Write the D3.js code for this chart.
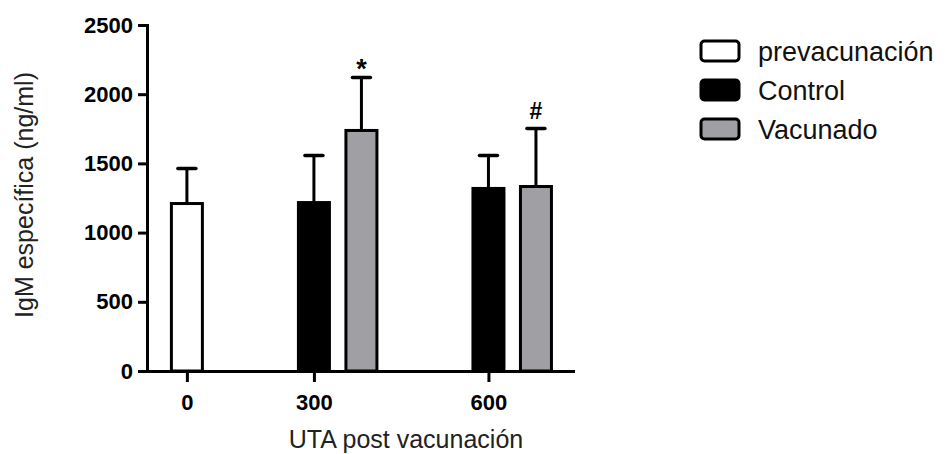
<!DOCTYPE html>
<html>
<head>
<meta charset="utf-8">
<script src="https://cdn.jsdelivr.net/npm/d3@7"></script>
<style>
  body { margin: 0; background: #fff; }
  svg { display: block; font-family: "Liberation Sans", Arial, sans-serif; }
</style>
</head>
<body>
<svg id="chart" width="945" height="454"></svg>
<script>
// Data
var groups = ['0', '300', '600'];
var seriesNames = ['prevacunación', 'Control', 'Vacunado'];
var seriesFill = ['#ffffff', '#000000', '#a0a0a4'];

var prevacunacion = [1210, null, null];
var prevacunacionSD = [253, null, null];
var control = [null, 1217, 1319];
var controlSD = [null, 340, 238];
var vacunado = [null, 1738, 1333];
var vacunadoSD = [null, 383, 419];
var vacunadoMark = [null, '*', '#'];

var yTicks = [0, 500, 1000, 1500, 2000, 2500];

var seriesMeans = [prevacunacion, control, vacunado];
var seriesSDs = [prevacunacionSD, controlSD, vacunadoSD];
var seriesMarks = [null, null, vacunadoMark];

// Build bar list; each group takes as many slots as it has bars, plus a gap
var gapSlots = 1.674;
var bars = [];
var ticks = [];
var slot = 0;
groups.forEach(function(g, gi) {
    var first = true;
    seriesMeans.forEach(function(vals, si) {
        if (vals[gi] == null) return;
        var pos = slot + gi * gapSlots;
        if (first) { ticks.push({ label: g, pos: pos }); first = false; }
        bars.push({
            group: g,
            series: si,
            pos: pos,
            mean: vals[gi],
            sd: seriesSDs[si][gi],
            mark: seriesMarks[si] ? seriesMarks[si][gi] : null
        });
        slot++;
    });
});

var svg = d3.select('#chart');

var plotLeft = 147, plotRight = 573, plotTop = 25, plotBottom = 371;
var lastPos = d3.max(bars, function(d) { return d.pos; });

var xScale = d3.scaleLinear()
    .domain([-0.84, lastPos + 0.78])
    .range([plotLeft, plotRight]);
var yScale = d3.scaleLinear()
    .domain([0, 2500])
    .range([plotBottom, plotTop]);

var barW = 31;
var capW = 18;

// Bars
svg.append('g').selectAll('rect')
    .data(bars)
    .enter()
    .append('rect')
    .attr('x', function(d) { return xScale(d.pos) - barW / 2; })
    .attr('y', function(d) { return yScale(d.mean); })
    .attr('width', barW)
    .attr('height', function(d) { return yScale(0) - yScale(d.mean); })
    .attr('fill', function(d) { return seriesFill[d.series]; })
    .attr('stroke', '#000')
    .attr('stroke-width', 3);

// Error bars (upper only)
var err = svg.append('g').attr('stroke', '#000').attr('stroke-width', 3);
bars.forEach(function(d) {
    var cx = xScale(d.pos);
    var top = yScale(d.mean + d.sd);
    err.append('line')
        .attr('x1', cx).attr('x2', cx)
        .attr('y1', yScale(d.mean)).attr('y2', top);
    err.append('line')
        .attr('x1', cx - capW / 2).attr('x2', cx + capW / 2)
        .attr('y1', top).attr('y2', top)
        .attr('stroke-width', 3.5)
        .attr('stroke-linecap', 'round');
});

// Significance marks
svg.append('g').selectAll('text')
    .data(bars.filter(function(d) { return d.mark; }))
    .enter()
    .append('text')
    .attr('x', function(d) { return xScale(d.pos); })
    .attr('y', function(d) {
        return yScale(d.mean + d.sd) + (d.mark === '*' ? 1 : -10);
    })
    .attr('text-anchor', 'middle')
    .attr('font-weight', 'bold')
    .attr('font-size', function(d) { return d.mark === '*' ? 27 : 23; })
    .attr('fill', '#000')
    .text(function(d) { return d.mark; });

// Y axis
var yAxis = d3.axisLeft(yScale)
    .tickValues(yTicks)
    .tickSize(9)
    .tickSizeOuter(0)
    .tickPadding(5)
    .tickFormat(d3.format('d'));

var yG = svg.append('g')
    .attr('transform', 'translate(' + plotLeft + ',0)')
    .call(yAxis);

// X axis
var xAxis = d3.axisBottom(xScale)
    .tickValues(ticks.map(function(t) { return t.pos; }))
    .tickSize(11)
    .tickSizeOuter(0)
    .tickPadding(12)
    .tickFormat(function(v, i) { return ticks[i].label; });

var xG = svg.append('g')
    .attr('transform', 'translate(0,' + plotBottom + ')')
    .call(xAxis);

[yG, xG].forEach(function(g) {
    g.select('.domain').attr('stroke', '#000').attr('stroke-width', 3).attr('stroke-linecap', 'square');
    g.selectAll('.tick line').attr('stroke', '#000').attr('stroke-width', 3);
    g.selectAll('.tick text')
        .attr('fill', '#000')
        .attr('font-size', 22)
        .attr('font-weight', 'bold')
        .attr('font-family', '"Liberation Sans", Arial, sans-serif');
});

// Axis titles
svg.append('text')
    .attr('transform', 'translate(33,195) rotate(-90)')
    .attr('text-anchor', 'middle')
    .attr('font-size', 25)
    .attr('fill', '#222')
    .text('IgM específica (ng/ml)');

svg.append('text')
    .attr('x', 406)
    .attr('y', 448)
    .attr('text-anchor', 'middle')
    .attr('font-size', 25)
    .attr('fill', '#222')
    .text('UTA post vacunación');

// Legend
var legend = svg.append('g').attr('transform', 'translate(700,0)');
var legendY = d3.scalePoint().domain(seriesNames).range([51, 129]);

seriesNames.forEach(function(name, i) {
    var cy = legendY(name);
    legend.append('rect')
        .attr('x', 1).attr('y', cy - 10)
        .attr('width', 38).attr('height', 20)
        .attr('rx', 3.5)
        .attr('fill', seriesFill[i])
        .attr('stroke', '#000')
        .attr('stroke-width', 3);
    legend.append('text')
        .attr('x', 58)
        .attr('y', cy + 9.5)
        .attr('font-size', 27)
        .attr('fill', '#111')
        .text(name);
});
</script>
</body>
</html>
